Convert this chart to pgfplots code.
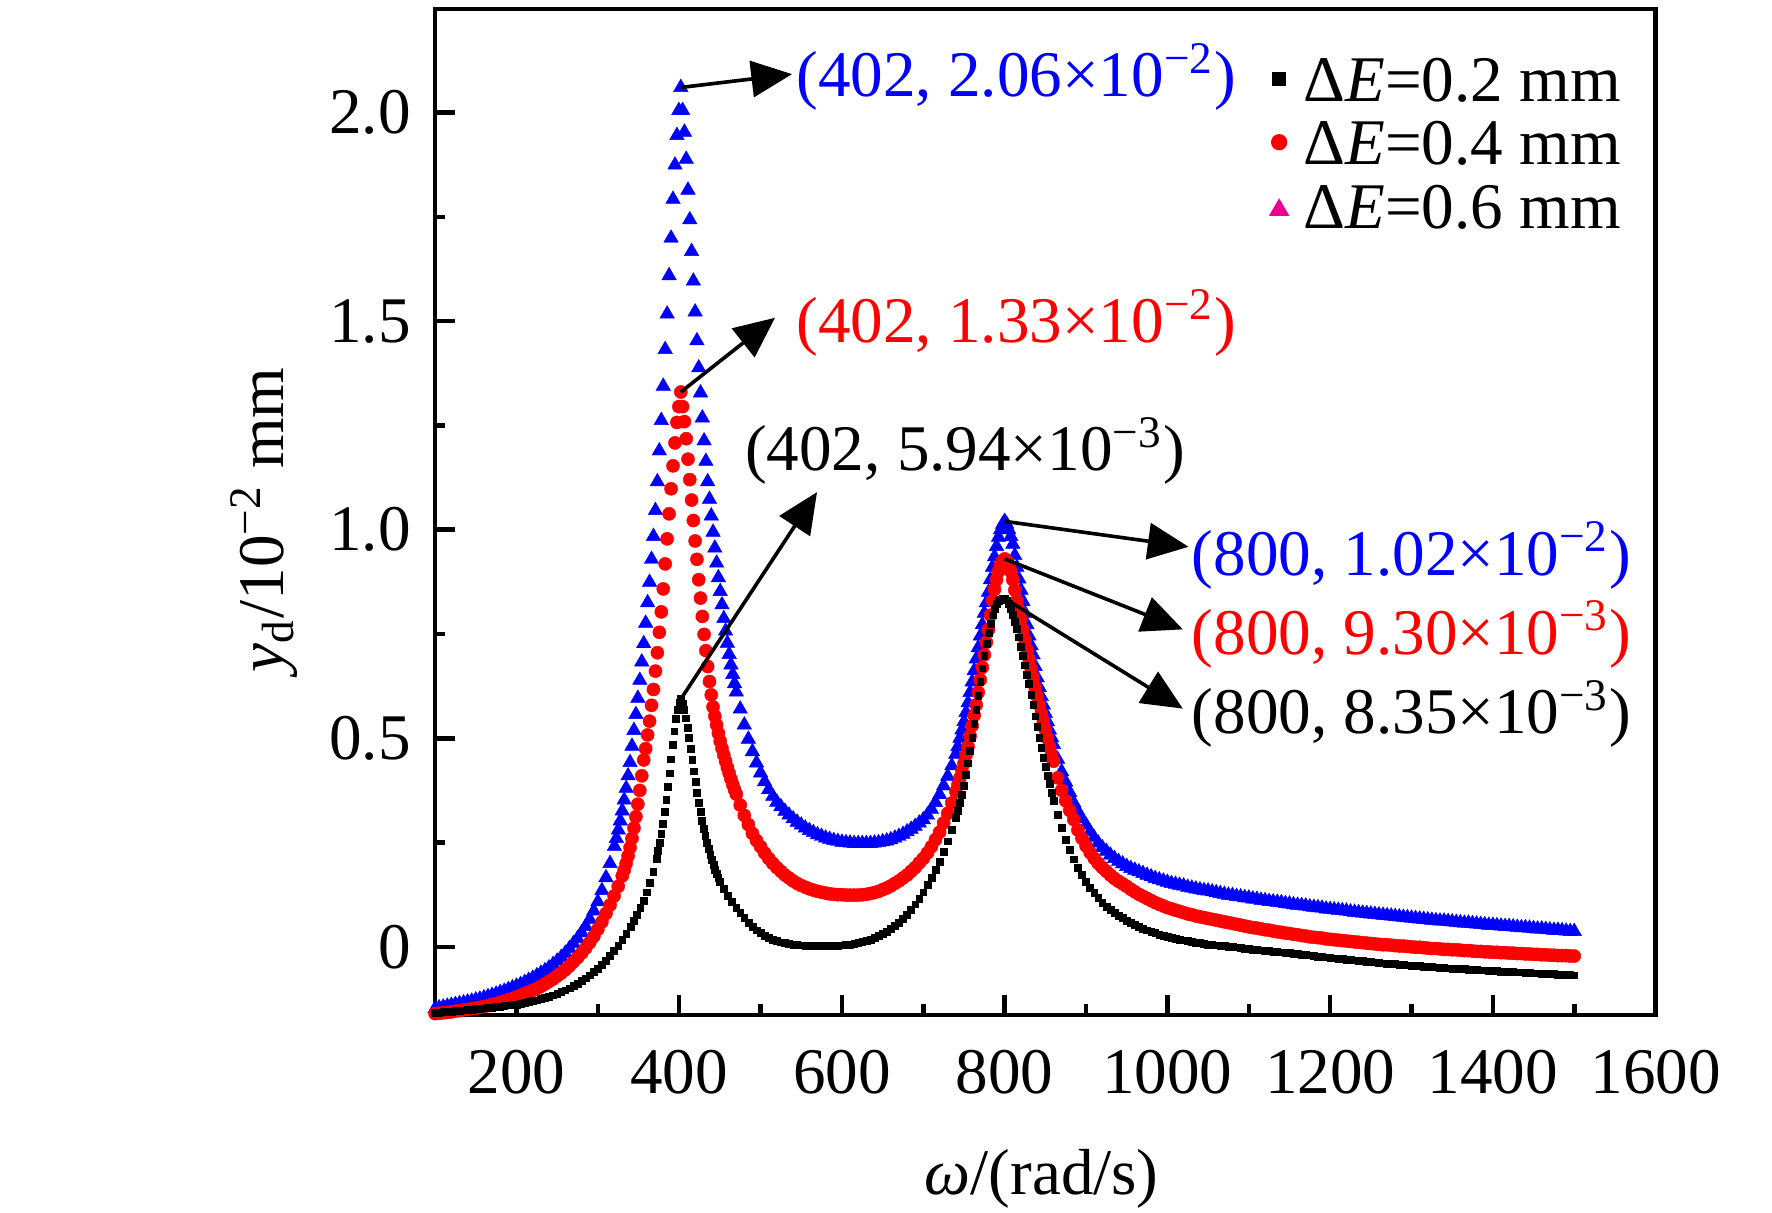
\documentclass[border=0pt]{standalone}
\usepackage{pgfplots}
\pgfplotsset{compat=1.18}
\usepackage{pgfplotstable}
\usepackage{fontspec}
\setmainfont{Liberation Serif}
\usetikzlibrary{arrows.meta}

\pgfplotstableread[row sep=\\]{
x y\\
100 -0.148\\ 105 -0.146\\ 110 -0.144\\ 115 -0.142\\ 120 -0.140\\ 125 -0.138\\ 130 -0.136\\ 135 -0.134\\ 140 -0.132\\ 145 -0.130\\
150 -0.127\\ 155 -0.125\\ 160 -0.122\\ 165 -0.119\\ 170 -0.116\\ 175 -0.113\\ 180 -0.109\\ 185 -0.106\\ 190 -0.102\\ 195 -0.098\\
200 -0.094\\ 205 -0.090\\ 210 -0.085\\ 215 -0.080\\ 220 -0.075\\ 225 -0.069\\ 230 -0.063\\ 235 -0.057\\ 240 -0.050\\ 245 -0.042\\
250 -0.034\\ 255 -0.025\\ 260 -0.015\\ 265 -0.004\\ 270 0.008\\ 275 0.020\\ 280 0.034\\ 285 0.049\\ 290 0.066\\ 295 0.086\\
300 0.108\\ 305 0.135\\ 310 0.166\\ 315 0.200\\ 320.4 0.241\\ 322.8 0.260\\ 325.2 0.280\\ 327.6 0.302\\ 330.0 0.326\\ 332.4 0.352\\
334.8 0.380\\ 337.2 0.410\\ 339.6 0.442\\ 342.0 0.481\\ 344.4 0.519\\ 346.8 0.557\\ 349.2 0.596\\ 351.6 0.639\\ 354.0 0.683\\ 356.4 0.727\\
358.8 0.776\\ 361.2 0.825\\ 363.6 0.874\\ 366.0 0.929\\ 368.4 0.984\\ 370.8 1.046\\ 373.2 1.115\\ 375.6 1.189\\ 378.0 1.262\\ 380.4 1.344\\
382.8 1.432\\ 385.2 1.517\\ 387.6 1.609\\ 390.0 1.699\\ 392.4 1.792\\ 394.8 1.874\\ 397.2 1.945\\ 399.6 2.005\\ 402 2.060\\
404.2 2.005\\ 406.4 1.953\\ 408.6 1.888\\ 410.8 1.814\\ 413.0 1.743\\ 415.2 1.667\\ 417.4 1.596\\ 419.6 1.522\\ 421.8 1.453\\ 424.0 1.388\\
426.2 1.328\\ 428.4 1.268\\ 430.6 1.213\\ 432.8 1.164\\ 435.0 1.115\\ 437.2 1.073\\ 439.4 1.033\\ 441.6 0.994\\ 443.8 0.956\\ 446.0 0.920\\
448.2 0.885\\ 450.4 0.852\\ 452.6 0.820\\ 454.8 0.787\\ 457.0 0.757\\ 459.2 0.728\\ 461.4 0.701\\ 463.6 0.676\\ 465.8 0.653\\ 468.0 0.631\\
470.2 0.611\\ 475 0.570\\ 480 0.532\\ 485 0.498\\ 490 0.468\\ 495 0.441\\ 500 0.417\\ 505 0.396\\ 510 0.377\\ 515 0.361\\
520 0.347\\ 525 0.336\\ 530 0.325\\ 535 0.316\\ 540 0.307\\ 545 0.299\\ 550 0.292\\ 555 0.285\\ 560 0.279\\ 565 0.274\\
570 0.269\\ 575 0.265\\ 580 0.261\\ 585 0.258\\ 590 0.255\\ 595 0.253\\ 600 0.251\\ 605 0.250\\ 610 0.249\\ 615 0.248\\
620 0.248\\ 625 0.248\\ 630 0.248\\ 635 0.248\\ 640 0.249\\ 645 0.250\\ 650 0.252\\ 655 0.254\\ 660 0.257\\ 665 0.261\\
670 0.265\\ 675 0.270\\ 680 0.276\\ 685 0.282\\ 690 0.289\\ 695 0.297\\ 700 0.305\\ 705 0.316\\
710 0.330\\ 715 0.346\\ 720 0.365\\ 725 0.386\\ 730 0.409\\ 735 0.434\\ 740 0.462\\ 742.5 0.480\\ 745 0.500\\ 747.5 0.520\\
750 0.540\\ 752.5 0.562\\ 755 0.585\\ 757.5 0.610\\ 760 0.635\\ 762.5 0.662\\ 765 0.690\\ 767.5 0.717\\ 770 0.745\\ 772.5 0.772\\
775 0.800\\ 777.5 0.825\\ 780 0.850\\ 782.5 0.880\\ 785 0.910\\ 787.5 0.935\\ 790 0.960\\ 792.5 0.982\\ 795 1.000\\ 797.5 1.013\\
800 1.020\\ 802.5 1.013\\ 805 1.000\\ 807.5 0.984\\ 810 0.965\\ 812.5 0.938\\ 815 0.910\\ 817.5 0.882\\ 820 0.855\\ 822.5 0.828\\
825 0.800\\ 827.5 0.772\\ 830 0.745\\ 832.5 0.722\\ 835 0.700\\ 837.5 0.672\\ 840 0.645\\ 842.5 0.622\\ 845 0.600\\ 847.5 0.580\\
850 0.560\\ 852.5 0.540\\ 855 0.520\\ 857.5 0.502\\ 860 0.485\\ 865 0.450\\ 870 0.420\\ 875 0.395\\ 880 0.370\\ 885 0.345\\
890 0.325\\ 895 0.307\\ 900 0.292\\ 905 0.276\\ 910 0.262\\ 915 0.249\\ 920 0.238\\ 925 0.229\\ 930 0.220\\ 935 0.212\\
940 0.205\\ 945 0.199\\ 950 0.193\\ 955 0.188\\ 960 0.184\\ 965 0.180\\ 970 0.176\\ 975 0.172\\ 980 0.168\\ 985 0.164\\
990 0.161\\ 995 0.158\\ 1000 0.155\\ 1005 0.152\\ 1010 0.150\\ 1015 0.148\\ 1020 0.146\\ 1025 0.143\\ 1030 0.141\\ 1035 0.139\\
1040 0.137\\ 1045 0.135\\ 1050 0.134\\ 1055 0.132\\ 1060 0.130\\ 1065 0.128\\ 1070 0.126\\ 1075 0.124\\ 1080 0.123\\ 1085 0.121\\
1090 0.120\\ 1095 0.118\\ 1100 0.117\\ 1105 0.115\\ 1110 0.114\\ 1115 0.112\\ 1120 0.111\\ 1125 0.109\\ 1130 0.108\\ 1135 0.107\\
1140 0.106\\ 1145 0.104\\ 1150 0.103\\ 1155 0.101\\ 1160 0.100\\ 1165 0.099\\ 1170 0.098\\ 1175 0.096\\ 1180 0.095\\ 1185 0.094\\
1190 0.093\\ 1195 0.091\\ 1200 0.090\\ 1205 0.089\\ 1210 0.088\\ 1215 0.087\\ 1220 0.086\\ 1225 0.084\\ 1230 0.083\\ 1235 0.082\\
1240 0.081\\ 1245 0.080\\ 1250 0.079\\ 1255 0.078\\ 1260 0.077\\ 1265 0.076\\ 1270 0.075\\ 1275 0.074\\ 1280 0.073\\ 1285 0.072\\
1290 0.071\\ 1295 0.070\\ 1300 0.069\\ 1305 0.068\\ 1310 0.067\\ 1315 0.066\\ 1320 0.065\\ 1325 0.064\\ 1330 0.063\\ 1335 0.062\\
1340 0.062\\ 1345 0.061\\ 1350 0.060\\ 1355 0.059\\ 1360 0.058\\ 1365 0.057\\ 1370 0.057\\ 1375 0.056\\ 1380 0.055\\ 1385 0.054\\
1390 0.053\\ 1395 0.052\\ 1400 0.052\\ 1405 0.051\\ 1410 0.050\\ 1415 0.049\\ 1420 0.049\\ 1425 0.048\\ 1430 0.047\\ 1435 0.046\\
1440 0.046\\ 1445 0.045\\ 1450 0.044\\ 1455 0.043\\ 1460 0.043\\ 1465 0.042\\ 1470 0.041\\ 1475 0.040\\ 1480 0.040\\ 1485 0.039\\
1490 0.038\\ 1495 0.037\\ 1500 0.037\\
}\tblue

\pgfplotstableread[row sep=\\]{
x y\\
100 -0.160\\ 105 -0.159\\ 110 -0.158\\ 115 -0.157\\ 120 -0.156\\ 125 -0.154\\ 130 -0.153\\ 135 -0.151\\ 140 -0.150\\ 145 -0.148\\
150 -0.147\\ 155 -0.145\\ 160 -0.143\\ 165 -0.141\\ 170 -0.138\\ 175 -0.136\\ 180 -0.133\\ 185 -0.130\\ 190 -0.127\\ 195 -0.124\\
200 -0.120\\ 205 -0.116\\ 210 -0.112\\ 215 -0.108\\ 220 -0.104\\ 225 -0.100\\ 230 -0.095\\ 235 -0.089\\ 240 -0.083\\ 245 -0.077\\
250 -0.070\\ 255 -0.063\\ 260 -0.055\\ 265 -0.046\\ 270 -0.036\\ 275 -0.026\\ 280 -0.015\\ 285 -0.003\\ 290 0.010\\ 295 0.025\\
300 0.042\\ 305 0.060\\ 310 0.080\\ 315 0.100\\ 320 0.122\\ 325 0.145\\ 330.0 0.170\\ 332.4 0.184\\ 334.8 0.200\\ 337.2 0.218\\
339.6 0.238\\ 342.0 0.260\\ 344.4 0.285\\ 346.8 0.312\\ 349.2 0.342\\ 351.6 0.375\\ 354.0 0.410\\ 356.4 0.448\\ 358.8 0.475\\ 361.2 0.508\\
363.6 0.541\\ 366.0 0.579\\ 368.4 0.617\\ 370.8 0.661\\ 373.2 0.705\\ 375.6 0.754\\ 378.0 0.803\\ 380.4 0.858\\ 382.8 0.918\\ 385.2 0.978\\
387.6 1.038\\ 390.0 1.098\\ 392.4 1.153\\ 394.8 1.208\\ 397.2 1.257\\ 399.6 1.295\\ 402 1.330\\
404.2 1.295\\ 406.4 1.259\\ 408.6 1.218\\ 410.8 1.169\\ 413.0 1.120\\ 415.2 1.071\\ 417.4 1.022\\ 419.6 0.973\\ 421.8 0.929\\ 424.0 0.880\\
426.2 0.836\\ 428.4 0.792\\ 430.6 0.749\\ 432.8 0.710\\ 435.0 0.672\\ 437.2 0.636\\ 439.4 0.604\\ 441.6 0.575\\ 443.8 0.553\\ 446.0 0.532\\
448.2 0.512\\ 450.4 0.493\\ 452.6 0.476\\ 454.8 0.460\\ 457.0 0.445\\ 459.2 0.430\\ 461.4 0.416\\ 463.6 0.402\\ 465.8 0.389\\ 468.0 0.377\\
470.2 0.366\\ 475 0.340\\ 480 0.315\\ 485 0.293\\ 490 0.272\\ 495 0.255\\ 500 0.240\\ 505 0.225\\ 510 0.212\\ 515 0.200\\
520 0.190\\ 525 0.181\\ 530 0.172\\ 535 0.165\\ 540 0.158\\ 545 0.152\\ 550 0.147\\ 555 0.143\\ 560 0.139\\ 565 0.136\\
570 0.133\\ 575 0.131\\ 580 0.129\\ 585 0.127\\ 590 0.126\\ 595 0.125\\ 600 0.125\\ 605 0.124\\ 610 0.124\\ 615 0.124\\
620 0.124\\ 625 0.125\\ 630 0.126\\ 635 0.128\\ 640 0.130\\ 645 0.133\\ 650 0.137\\ 655 0.141\\ 660 0.146\\ 665 0.152\\
670 0.158\\ 675 0.165\\ 680 0.172\\ 685 0.181\\ 690 0.190\\ 695 0.201\\ 700 0.212\\ 705 0.225\\
710 0.240\\ 715 0.257\\ 720 0.275\\ 725 0.297\\ 730 0.320\\ 735 0.345\\ 740 0.372\\ 742.5 0.388\\ 745 0.405\\ 747.5 0.422\\
750 0.440\\ 752.5 0.460\\ 755 0.480\\ 757.5 0.505\\ 760 0.530\\ 762.5 0.555\\ 765 0.580\\ 767.5 0.610\\ 770 0.640\\ 772.5 0.670\\
775 0.700\\ 777.5 0.730\\ 780 0.760\\ 782.5 0.795\\ 785 0.830\\ 787.5 0.857\\ 790 0.880\\ 792.5 0.900\\ 795 0.915\\ 797.5 0.925\\
800 0.930\\ 802.5 0.925\\ 805 0.915\\ 807.5 0.900\\ 810 0.880\\ 812.5 0.855\\ 815 0.830\\ 817.5 0.807\\ 820 0.785\\ 822.5 0.760\\
825 0.735\\ 827.5 0.712\\ 830 0.690\\ 832.5 0.667\\ 835 0.645\\ 837.5 0.622\\ 840 0.600\\ 842.5 0.580\\ 845 0.560\\ 847.5 0.540\\
850 0.520\\ 852.5 0.500\\ 855 0.480\\ 857.5 0.462\\ 860 0.445\\ 865 0.405\\ 870 0.375\\ 875 0.350\\ 880 0.327\\ 885 0.305\\
890 0.280\\ 895 0.260\\ 900 0.242\\ 905 0.226\\ 910 0.212\\ 915 0.200\\ 920 0.190\\ 925 0.181\\ 930 0.172\\ 935 0.164\\
940 0.157\\ 945 0.151\\ 950 0.145\\ 955 0.138\\ 960 0.132\\ 965 0.126\\ 970 0.121\\ 975 0.116\\ 980 0.111\\ 985 0.106\\
990 0.102\\ 995 0.098\\ 1000 0.094\\ 1005 0.091\\ 1010 0.088\\ 1015 0.085\\ 1020 0.082\\ 1025 0.079\\ 1030 0.077\\ 1035 0.074\\
1040 0.072\\ 1045 0.070\\ 1050 0.068\\ 1055 0.066\\ 1060 0.064\\ 1065 0.062\\ 1070 0.060\\ 1075 0.058\\ 1080 0.056\\ 1085 0.054\\
1090 0.052\\ 1095 0.050\\ 1100 0.048\\ 1105 0.046\\ 1110 0.045\\ 1115 0.043\\ 1120 0.041\\ 1125 0.040\\ 1130 0.038\\ 1135 0.036\\
1140 0.035\\ 1145 0.033\\ 1150 0.032\\ 1155 0.030\\ 1160 0.029\\ 1165 0.027\\ 1170 0.026\\ 1175 0.024\\ 1180 0.023\\ 1185 0.022\\
1190 0.021\\ 1195 0.019\\ 1200 0.018\\ 1205 0.017\\ 1210 0.016\\ 1215 0.015\\ 1220 0.014\\ 1225 0.013\\ 1230 0.012\\ 1235 0.011\\
1240 0.010\\ 1245 0.009\\ 1250 0.008\\ 1255 0.007\\ 1260 0.006\\ 1265 0.005\\ 1270 0.005\\ 1275 0.004\\ 1280 0.003\\ 1285 0.002\\
1290 0.002\\ 1295 0.001\\ 1300 0.000\\ 1305 -0.001\\ 1310 -0.001\\ 1315 -0.002\\ 1320 -0.003\\ 1325 -0.004\\ 1330 -0.004\\ 1335 -0.005\\
1340 -0.006\\ 1345 -0.006\\ 1350 -0.007\\ 1355 -0.007\\ 1360 -0.008\\ 1365 -0.009\\ 1370 -0.009\\ 1375 -0.010\\ 1380 -0.011\\ 1385 -0.011\\
1390 -0.012\\ 1395 -0.012\\ 1400 -0.013\\ 1405 -0.013\\ 1410 -0.014\\ 1415 -0.014\\ 1420 -0.015\\ 1425 -0.015\\ 1430 -0.016\\ 1435 -0.016\\
1440 -0.017\\ 1445 -0.017\\ 1450 -0.018\\ 1455 -0.018\\ 1460 -0.019\\ 1465 -0.019\\ 1470 -0.020\\ 1475 -0.020\\ 1480 -0.021\\ 1485 -0.021\\
1490 -0.021\\ 1495 -0.022\\ 1500 -0.022\\
}\tred

\pgfplotstableread[row sep=\\]{
x y\\
100 -0.158\\ 105 -0.157\\ 110 -0.156\\ 115 -0.156\\ 120 -0.155\\ 125 -0.154\\ 130 -0.153\\ 135 -0.152\\ 140 -0.151\\ 145 -0.150\\
150 -0.149\\ 155 -0.148\\ 160 -0.147\\ 165 -0.146\\ 170 -0.145\\ 175 -0.144\\ 180 -0.143\\ 185 -0.142\\ 190 -0.140\\ 195 -0.139\\
200 -0.138\\ 205 -0.136\\ 210 -0.134\\ 215 -0.132\\ 220 -0.130\\ 225 -0.128\\ 230 -0.125\\ 235 -0.122\\ 240 -0.119\\ 245 -0.116\\
250 -0.112\\ 255 -0.108\\ 260 -0.104\\ 265 -0.099\\ 270 -0.094\\ 275 -0.088\\ 280 -0.082\\ 285 -0.075\\ 290 -0.068\\ 295 -0.060\\
300 -0.052\\ 305 -0.043\\ 310 -0.033\\ 315 -0.022\\ 320 -0.010\\ 325 0.003\\ 330 0.017\\ 335 0.032\\ 340 0.048\\ 344 0.062\\
348 0.077\\ 352 0.093\\ 356 0.111\\ 360 0.131\\ 364 0.153\\ 368 0.180\\ 372 0.212\\ 374 0.230\\ 376 0.250\\ 378 0.272\\
380 0.296\\ 382 0.323\\ 384 0.352\\ 386 0.383\\ 388 0.416\\ 390 0.450\\ 392 0.484\\ 394 0.517\\ 396 0.546\\ 398 0.569\\
400 0.585\\ 402 0.594\\ 404 0.584\\ 406 0.568\\ 408 0.548\\ 410 0.526\\ 412 0.501\\ 414 0.475\\ 416 0.448\\ 418 0.421\\
420 0.395\\ 422 0.370\\ 424 0.346\\ 426 0.324\\ 428 0.303\\ 430 0.284\\ 432 0.266\\ 434 0.250\\ 436 0.235\\ 438 0.221\\
440 0.208\\ 442 0.196\\ 444 0.185\\ 446 0.175\\ 448 0.166\\ 450 0.157\\ 455 0.139\\ 460 0.123\\ 465 0.108\\ 470 0.094\\
475 0.081\\ 480 0.069\\ 485 0.058\\ 490 0.048\\ 495 0.040\\ 500 0.033\\ 505 0.027\\ 510 0.022\\ 515 0.018\\ 520 0.014\\
525 0.011\\ 530 0.009\\ 535 0.007\\ 540 0.006\\ 545 0.005\\ 550 0.004\\ 555 0.003\\ 560 0.003\\ 565 0.002\\ 570 0.002\\
575 0.002\\ 580 0.002\\ 585 0.002\\ 590 0.003\\ 595 0.003\\ 600 0.004\\ 605 0.005\\ 610 0.006\\ 615 0.008\\ 620 0.010\\
625 0.012\\ 630 0.015\\ 635 0.018\\ 640 0.022\\ 645 0.026\\ 650 0.031\\ 655 0.037\\ 660 0.043\\ 665 0.050\\ 670 0.058\\
675 0.067\\ 680 0.077\\ 685 0.089\\ 690 0.102\\ 695 0.116\\ 700 0.131\\ 705 0.148\\ 710 0.166\\ 715 0.185\\ 720 0.205\\
725 0.228\\ 730 0.253\\ 735 0.280\\ 740 0.310\\ 742.5 0.327\\ 745 0.345\\ 747.5 0.365\\ 750 0.387\\ 752.5 0.412\\ 755 0.440\\
757.5 0.470\\ 760 0.502\\ 762.5 0.535\\ 765 0.568\\ 767.5 0.602\\ 770 0.636\\ 772.5 0.668\\ 775 0.698\\ 777.5 0.727\\ 780 0.753\\
782.5 0.775\\ 785 0.795\\ 787.5 0.810\\ 790 0.822\\ 792.5 0.829\\ 795 0.833\\ 797.5 0.835\\ 800 0.835\\ 802.5 0.831\\ 805 0.823\\
807.5 0.811\\ 810 0.796\\ 812.5 0.780\\ 815 0.762\\ 817.5 0.742\\ 820 0.720\\ 822.5 0.698\\ 825 0.675\\ 827.5 0.652\\ 830 0.630\\
832.5 0.605\\ 835 0.580\\ 837.5 0.553\\ 840 0.527\\ 842.5 0.502\\ 845 0.478\\ 847.5 0.454\\ 850 0.432\\ 852.5 0.411\\ 855 0.391\\
857.5 0.370\\ 860 0.351\\ 865 0.316\\ 870 0.285\\ 875 0.257\\ 880 0.232\\ 885 0.210\\ 890 0.190\\ 895 0.172\\ 900 0.156\\
905 0.142\\ 910 0.129\\ 915 0.117\\ 920 0.106\\ 925 0.097\\ 930 0.089\\ 935 0.082\\ 940 0.075\\ 945 0.069\\ 950 0.063\\
955 0.058\\ 960 0.053\\ 965 0.048\\ 970 0.044\\ 975 0.040\\ 980 0.036\\ 985 0.033\\ 990 0.030\\ 995 0.027\\ 1000 0.024\\
1005 0.022\\ 1010 0.020\\ 1015 0.018\\ 1020 0.016\\ 1025 0.014\\ 1030 0.012\\ 1035 0.010\\ 1040 0.009\\ 1045 0.007\\ 1050 0.006\\
1055 0.005\\ 1060 0.004\\ 1065 0.003\\ 1070 0.002\\ 1075 0.001\\ 1080 0.000\\ 1085 -0.001\\ 1090 -0.003\\ 1095 -0.004\\ 1100 -0.005\\
1105 -0.006\\ 1110 -0.007\\ 1115 -0.008\\ 1120 -0.009\\ 1125 -0.010\\ 1130 -0.011\\ 1135 -0.012\\ 1140 -0.013\\ 1145 -0.014\\ 1150 -0.015\\
1155 -0.016\\ 1160 -0.017\\ 1165 -0.018\\ 1170 -0.019\\ 1175 -0.020\\ 1180 -0.022\\ 1185 -0.023\\ 1190 -0.024\\ 1195 -0.025\\ 1200 -0.026\\
1205 -0.027\\ 1210 -0.028\\ 1215 -0.029\\ 1220 -0.030\\ 1225 -0.031\\ 1230 -0.032\\ 1235 -0.033\\ 1240 -0.034\\ 1245 -0.035\\ 1250 -0.036\\
1255 -0.037\\ 1260 -0.038\\ 1265 -0.039\\ 1270 -0.040\\ 1275 -0.040\\ 1280 -0.041\\ 1285 -0.042\\ 1290 -0.043\\ 1295 -0.044\\ 1300 -0.045\\
1305 -0.046\\ 1310 -0.046\\ 1315 -0.047\\ 1320 -0.048\\ 1325 -0.048\\ 1330 -0.049\\ 1335 -0.050\\ 1340 -0.050\\ 1345 -0.051\\ 1350 -0.052\\
1355 -0.052\\ 1360 -0.053\\ 1365 -0.053\\ 1370 -0.054\\ 1375 -0.055\\ 1380 -0.055\\ 1385 -0.056\\ 1390 -0.056\\ 1395 -0.057\\ 1400 -0.058\\
1405 -0.058\\ 1410 -0.059\\ 1415 -0.059\\ 1420 -0.060\\ 1425 -0.060\\ 1430 -0.061\\ 1435 -0.061\\ 1440 -0.062\\ 1445 -0.062\\ 1450 -0.063\\
1455 -0.063\\ 1460 -0.064\\ 1465 -0.064\\ 1470 -0.065\\ 1475 -0.065\\ 1480 -0.066\\ 1485 -0.066\\ 1490 -0.067\\ 1495 -0.067\\ 1500 -0.068\\
}\tblack

\begin{document}
\fontsize{14.4}{17.3}\selectfont
\begin{tikzpicture}
\begin{axis}[
  name=ax, at={(0,0)}, anchor=south west,
  scale only axis, width=270pt, height=222.5pt,
  xmin=100, xmax=1600, ymin=-0.163, ymax=2.248,
  xtick={200,400,...,1600},
  xticklabels={200,400,600,800,1000,1200,1400,1600},
  ytick={0,0.5,1,1.5,2},
  yticklabels={0,0.5,1.0,1.5,2.0},
  minor x tick num=1, minor y tick num=1,
  tick align=inside, tick pos=left,
  major tick length=4.5pt, minor tick length=2.3pt,
  axis line style={line width=1pt},
  every tick/.style={black, line width=1pt},
  xticklabel style={yshift=-2.9pt},
  yticklabel style={xshift=-0.4pt},
  xlabel={\textit{ω}/(rad/s)},
  ylabel={\textit{y}\textsubscript{d}/10\textsuperscript{−2} mm},
  xlabel style={at={(axis description cs:0.497,-0.163)}, anchor=center},
  ylabel style={at={(axis description cs:-0.14,0.492)}, anchor=center},
  clip mode=individual,
  legend style={draw=none, fill=none, at={(rel axis cs:1,1)}, anchor=north east,
    xshift=-7.5pt, yshift=-10.25pt, inner sep=0pt, row sep=0pt, column sep=3.5pt,
    nodes={inner sep=0pt, text height=10pt, text depth=4pt}},
  legend cell align=left,
]
\addplot[forget plot, only marks, mark=triangle*, mark size=1.85pt, color=blue, mark options={line width=0.1pt}] table[x=x,y=y] {\tblue};
\addplot[forget plot, only marks, mark=*, mark size=1.45pt, color=red, mark options={line width=0.1pt}] table[x=x,y=y] {\tred};
\addplot[forget plot, only marks, mark=square*, mark size=0.75pt, color=black, mark options={line width=0.1pt}] table[x=x,y=y] {\tblack};

\addlegendimage{legend image code/.code={\draw[only marks, mark=square*, mark size=1.4pt, black] plot coordinates {(0pt,2pt)};}}
\addlegendentry{Δ\textit{E}=0.2 mm}
\addlegendimage{legend image code/.code={\draw[only marks, mark=*, mark size=1.6pt, red] plot coordinates {(0pt,2pt)};}}
\addlegendentry{Δ\textit{E}=0.4 mm}
\addlegendimage{legend image code/.code={\draw[only marks, mark=triangle*, mark size=2.2pt, magenta] plot coordinates {(0pt,1pt)};}}
\addlegendentry{Δ\textit{E}=0.6 mm}

\draw[-{Triangle[length=9pt,width=8pt]}, line width=0.8pt] (axis cs:402,2.06) -- (axis cs:538.7,2.092);
\draw[-{Triangle[length=9pt,width=8pt]}, line width=0.8pt] (axis cs:402,1.33) -- (axis cs:517.8,1.508);
\draw[-{Triangle[length=9pt,width=8pt]}, line width=0.8pt] (axis cs:402,0.594) -- (axis cs:569.4,1.09);
\draw[-{Triangle[length=9pt,width=8pt]}, line width=0.8pt] (axis cs:800,1.02) -- (axis cs:1026,0.959);
\draw[-{Triangle[length=9pt,width=8pt]}, line width=0.8pt] (axis cs:800,0.93) -- (axis cs:1019,0.761);
\draw[-{Triangle[length=9pt,width=8pt]}, line width=0.8pt] (axis cs:800,0.835) -- (axis cs:1019,0.571);

\node[anchor=base west, inner sep=0pt, text=blue] at (axis cs:543,2.038) {(402, 2.06×10\textsuperscript{−2})};
\node[anchor=base west, inner sep=0pt, text=red] at (axis cs:543,1.448) {(402, 1.33×10\textsuperscript{−2})};
\node[anchor=base west, inner sep=0pt, text=black] at (axis cs:480,1.141) {(402, 5.94×10\textsuperscript{−3})};
\node[anchor=base west, inner sep=0pt, text=blue] at (axis cs:1029,0.891) {(800, 1.02×10\textsuperscript{−2})};
\node[anchor=base west, inner sep=0pt, text=red] at (axis cs:1029,0.701) {(800, 9.30×10\textsuperscript{−3})};
\node[anchor=base west, inner sep=0pt, text=black] at (axis cs:1029,0.511) {(800, 8.35×10\textsuperscript{−3})};
\end{axis}
\pgfresetboundingbox
\path ([xshift=-96.25pt,yshift=-43.75pt]ax.south west) rectangle ([xshift=25.75pt,yshift=2pt]ax.north east);
\end{tikzpicture}
\end{document}
